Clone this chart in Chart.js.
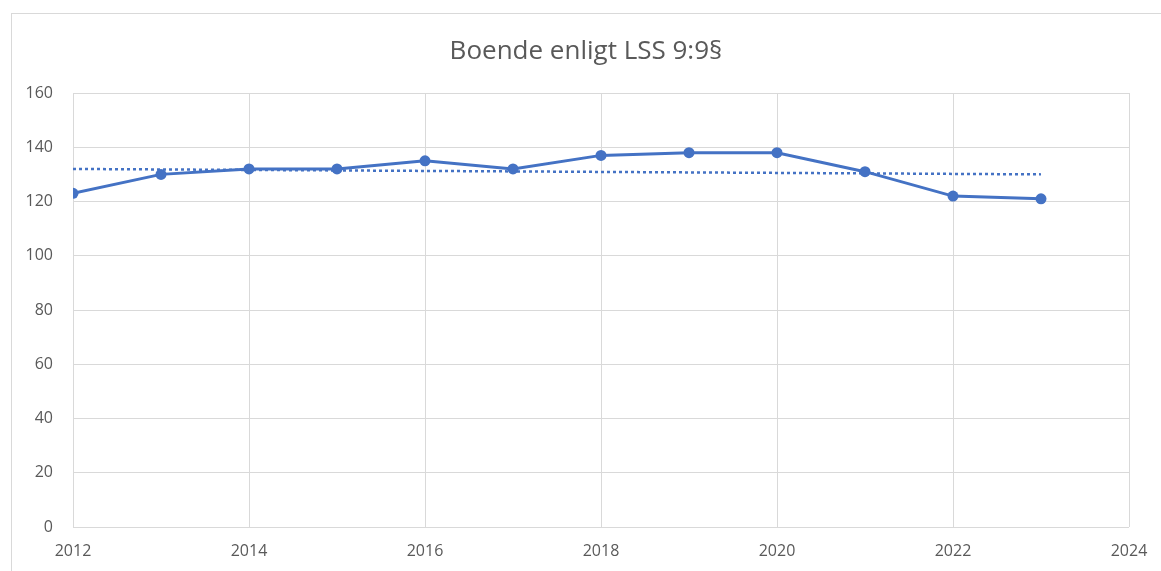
<!DOCTYPE html>
<html lang="sv">
<head>
  <meta charset="UTF-8">
  <title>Boende enligt LSS 9:9§</title>
  <script src="https://cdn.jsdelivr.net/npm/chart.js"></script>
  <style>
    html, body {
      margin: 0;
      padding: 0;
      background: #fff;
      overflow: hidden;
    }
    .ram {
      position: absolute;
      left: 11px;
      top: 13px;
      width: 1300px;
      height: 700px;
      border: 1px solid #d9d9d9;
    }
    #diagram {
      position: absolute;
      left: 0;
      top: 0;
    }
  </style>
</head>
<body>
  <div class="ram"></div>
  <canvas id="diagram" width="1161" height="571"></canvas>

  <script>
    const titel = 'Boende enligt LSS 9:9§';
    const ar = [2012, 2013, 2014, 2015, 2016, 2017, 2018, 2019, 2020, 2021, 2022, 2023];
    const antal = [123, 130, 132, 132, 135, 132, 137, 138, 138, 131, 122, 121];
    // trendlinje (linjär), ändpunkter
    const trendAr = [2012, 2023];
    const trendVarden = [132, 130];

    const bla = '#4472C4';
    const gra = '#595959';
    const rutnat = '#d9d9d9';

    Chart.defaults.font.family = "'Open Sans', sans-serif";
    Chart.defaults.color = gra;

    new Chart(document.getElementById('diagram'), {
      type: 'line',
      data: {
        datasets: [
          {
            label: 'Antal',
            data: ar.map((a, i) => ({ x: a, y: antal[i] })),
            borderColor: bla,
            backgroundColor: bla,
            borderWidth: 3,
            pointRadius: 5.5,
            pointHoverRadius: 5.5,
            pointBorderWidth: 0,
            tension: 0
          },
          {
            label: 'Trend',
            data: trendAr.map((a, i) => ({ x: a, y: trendVarden[i] })),
            borderColor: bla,
            borderWidth: 2.5,
            borderDash: [3, 3],
            pointRadius: 0,
            fill: false
          }
        ]
      },
      options: {
        responsive: false,
        animation: false,
        layout: {
          // titeln centreras över hela ramen (11..1161)
          padding: { left: 11, right: 0, top: 13, bottom: 0 }
        },
        plugins: {
          legend: { display: false },
          tooltip: { enabled: false },
          title: {
            display: true,
            text: titel,
            color: gra,
            font: { size: 26, weight: 'normal' },
            padding: { top: 23.4, bottom: 25.4 }
          }
        },
        scales: {
          x: {
            type: 'linear',
            min: 2012,
            max: 2024,
            ticks: {
              stepSize: 2,
              padding: 15,
              font: { size: 16 },
              color: gra,
              maxRotation: 0,
              callback: v => String(v)
            },
            grid: { color: rutnat, drawTicks: false },
            border: { display: false },
            // plottytans högerkant vid x=1129
            afterFit: s => { s.height = 44; s.paddingLeft = 0; s.paddingRight = 32; }
          },
          y: {
            min: 0,
            max: 160,
            ticks: {
              stepSize: 20,
              padding: 20,
              font: { size: 16 },
              color: gra
            },
            grid: { color: rutnat, drawTicks: false },
            border: { display: false },
            afterFit: s => { s.width = 62; }
          }
        }
      }
    });
  </script>
</body>
</html>
